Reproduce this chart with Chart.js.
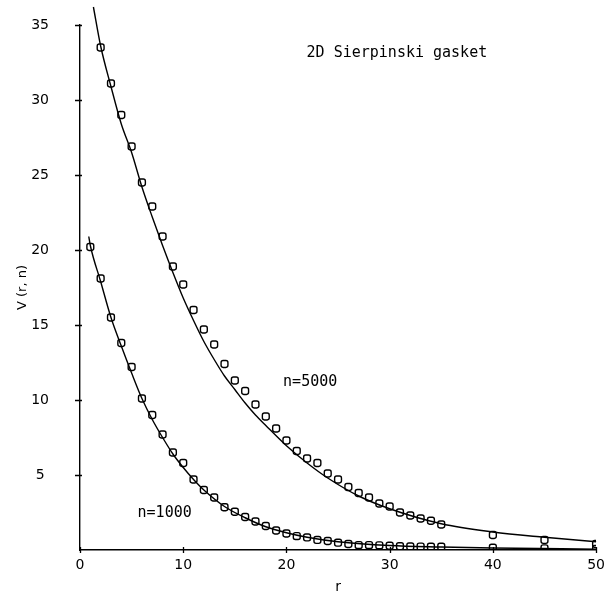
<!DOCTYPE html>
<html>
<head>
<meta charset="utf-8">
<title>2D Sierpinski gasket</title>
<script src="https://cdn.jsdelivr.net/npm/chart.js@4.4.1/dist/chart.umd.min.js"></script>
<style>
  html, body { margin: 0; padding: 0; background: #fff; }
  canvas { display: block; }
</style>
</head>
<body>
<canvas id="chart" width="605" height="596"></canvas>
<script>
// ── Data ─────────────────────────────────────────────────────
// measured points, n = 5000
const r5000 = [2, 3, 4, 5, 6, 7, 8, 9, 10, 11, 12, 13, 14, 15, 16, 17, 18, 19, 20, 21, 22, 23, 24, 25, 26, 27, 28, 29, 30, 31, 32, 33, 34, 35, 40, 45, 50];
const v5000 = [33.5, 31.1, 29.0, 26.9, 24.5, 22.9, 20.9, 18.9, 17.7, 16.0, 14.7, 13.7, 12.4, 11.3, 10.6, 9.7, 8.9, 8.1, 7.3, 6.6, 6.1, 5.8, 5.1, 4.7, 4.2, 3.8, 3.5, 3.1, 2.9, 2.5, 2.3, 2.1, 1.95, 1.7, 1.0, 0.67, 0.4];

// measured points, n = 1000
const r1000 = [1, 2, 3, 4, 5, 6, 7, 8, 9, 10, 11, 12, 13, 14, 15, 16, 17, 18, 19, 20, 21, 22, 23, 24, 25, 26, 27, 28, 29, 30, 31, 32, 33, 34, 35, 40, 45, 50];
const v1000 = [20.2, 18.1, 15.5, 13.8, 12.2, 10.1, 9.0, 7.7, 6.5, 5.8, 4.7, 4.0, 3.5, 2.85, 2.55, 2.2, 1.9, 1.6, 1.3, 1.1, 0.93, 0.84, 0.67, 0.6, 0.49, 0.4, 0.33, 0.33, 0.31, 0.29, 0.25, 0.24, 0.23, 0.22, 0.22, 0.15, 0.11, 0.07];

// fitted curves (samples)
const fit5000R = [1.3, 2, 3, 4, 5, 6, 7, 8, 9, 10, 11, 12, 13, 14, 15, 16, 17, 18, 20, 22, 24, 27, 30, 35, 40, 45, 50];
const fit5000V = [36.2, 33.6, 30.9, 28.4, 26.5, 24.2, 22.2, 20.3, 18.5, 16.8, 15.3, 13.9, 12.7, 11.6, 10.7, 9.8, 9.0, 8.3, 6.95, 5.8, 4.8, 3.6, 2.75, 1.75, 1.2, 0.85, 0.55];
const fit1000R = [0.85, 1, 2, 3, 4, 5, 6, 7, 8, 9, 10, 11, 12, 14, 16, 18, 20, 22, 25, 30, 35, 40, 50];
const fit1000V = [20.9, 20.3, 17.9, 15.5, 13.6, 11.8, 10.1, 8.7, 7.5, 6.4, 5.5, 4.7, 4.0, 2.9, 2.15, 1.55, 1.15, 0.85, 0.55, 0.3, 0.2, 0.13, 0.06];

// axis ticks
const xTicks = [0, 10, 20, 30, 40, 50];
const yTicks = [5, 10, 15, 20, 25, 30, 35];

// text written inside the plot (anchored in data units)
const notes = [
  { text: '2D Sierpinski gasket', r: 30.7, v: 33.1 },
  { text: 'n=5000', r: 22.3, v: 11.2 },
  { text: 'n=1000', r: 8.2, v: 2.47 },
];

const pairs = (xs, ys) => xs.map((x, i) => ({ x, y: ys[i] }));

// ── Plugin: crossing tick marks + in-plot labels ─────────────
const plotExtras = {
  id: 'plotExtras',
  afterDraw(chart) {
    const { ctx, chartArea: a, scales: { x, y } } = chart;
    ctx.save();
    ctx.strokeStyle = '#000';
    ctx.lineWidth = 1.3;
    ctx.beginPath();
    yTicks.forEach(v => {
      const py = Math.round(y.getPixelForValue(v)) + 0.5;
      ctx.moveTo(a.left - 5, py); ctx.lineTo(a.left + 2, py);
    });
    xTicks.forEach(v => {
      const px = Math.round(x.getPixelForValue(v)) + 0.5;
      ctx.moveTo(px, a.bottom - 3); ctx.lineTo(px, a.bottom + 3);
    });
    ctx.stroke();

    ctx.fillStyle = '#000';
    ctx.font = '15px "DejaVu Sans Mono"';
    ctx.textAlign = 'center';
    ctx.textBaseline = 'middle';
    notes.forEach(n => ctx.fillText(n.text, x.getPixelForValue(n.r), y.getPixelForValue(n.v)));
    ctx.restore();
  }
};

// ── Chart ────────────────────────────────────────────────────
Chart.defaults.color = '#000';
Chart.defaults.font.family = '"DejaVu Sans"';

const markerStyle = {
  showLine: false,
  pointStyle: 'rectRounded',
  pointRadius: 4,
  pointBorderWidth: 1.4,
  pointBorderColor: '#000',
  pointBackgroundColor: 'rgba(0,0,0,0)',
};
const curveStyle = {
  showLine: true,
  borderColor: '#000',
  borderWidth: 1.4,
  pointRadius: 0,
  cubicInterpolationMode: 'monotone',
};

// invisible tick marks used only as a spacer between axis and labels
const spacerGrid = len => ({
  display: true, drawOnChartArea: false, drawTicks: true,
  tickLength: len, tickColor: 'rgba(0,0,0,0)'
});

new Chart(document.getElementById('chart'), {
  type: 'scatter',
  data: {
    datasets: [
      { label: 'fit n=5000', data: pairs(fit5000R, fit5000V), clip: false, ...curveStyle },
      { label: 'fit n=1000', data: pairs(fit1000R, fit1000V), ...curveStyle },
      { label: 'n=5000', data: pairs(r5000, v5000), ...markerStyle },
      { label: 'n=1000', data: pairs(r1000, v1000), ...markerStyle },
    ]
  },
  options: {
    responsive: false,
    animation: false,
    layout: { padding: { top: 25, right: 8, left: 0, bottom: 0 } },
    plugins: { legend: { display: false }, tooltip: { enabled: false } },
    scales: {
      x: {
        type: 'linear', min: 0, max: 50,
        afterFit: s => { s.height = 46; },
        afterBuildTicks: s => { s.ticks = xTicks.map(v => ({ value: v })); },
        grid: spacerGrid(7),
        border: { display: true, color: '#000', width: 1.4 },
        ticks: { padding: 0, font: { size: 14 }, maxRotation: 0 },
        title: { display: true, text: 'r', font: { size: 14 }, padding: { top: 0, bottom: 0 } }
      },
      y: {
        type: 'linear', min: 0, max: 35,
        afterFit: s => { s.width = 80; },
        afterBuildTicks: s => { s.ticks = yTicks.map(v => ({ value: v })); },
        grid: spacerGrid(31),
        border: { display: true, color: '#000', width: 1.4 },
        ticks: { padding: 0, crossAlign: 'center', font: { size: 14 } },
        title: { display: true, text: 'V (r, n)', font: { size: 13 }, padding: { top: 15, bottom: 0 } }
      }
    }
  },
  plugins: [plotExtras]
});
</script>
</body>
</html>
